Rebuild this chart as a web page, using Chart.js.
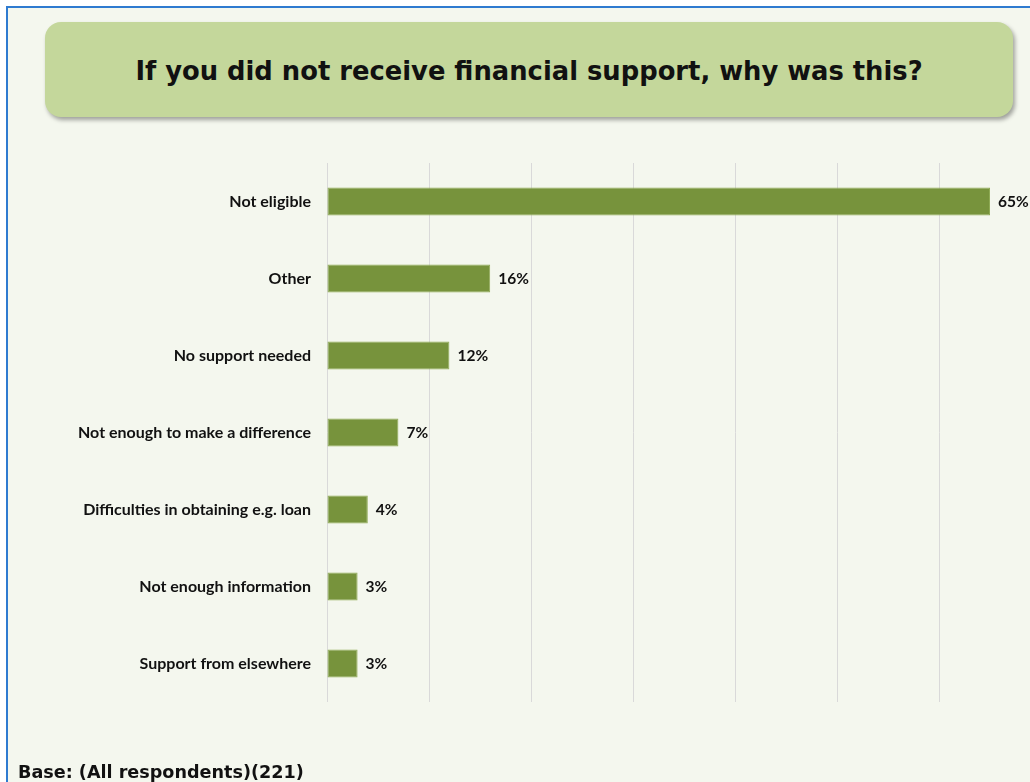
<!DOCTYPE html>
<html>
<head>
<meta charset="utf-8">
<script src="https://cdn.jsdelivr.net/npm/chart.js@4/dist/chart.umd.min.js"></script>
<style>
  html, body { margin: 0; padding: 0; background: #ffffff; }
  #page { position: relative; width: 1030px; height: 782px; overflow: hidden; background: #ffffff; }
  #frame {
    position: absolute; left: 6px; top: 6px; width: 1100px; height: 800px;
    border-left: 2px solid #2f7bd0; border-top: 2px solid #2f7bd0;
    background: #f4f7ee;
  }
  #titleBox {
    position: absolute; left: 45px; top: 22px; width: 968px; height: 95px;
    background: #c4d79b; border-radius: 16px;
    box-shadow: 2px 3px 4px rgba(0,0,0,0.35);
    display: flex; align-items: center; justify-content: center;
    font-family: "DejaVu Sans", Verdana, sans-serif; font-weight: bold; font-size: 25.8px; color: #111;
    padding-top: 2px; box-sizing: border-box;
  }
  #base {
    position: absolute; left: 18px; top: 762px;
    font-family: "DejaVu Sans", Verdana, sans-serif; font-weight: bold; font-size: 17.6px; color: #111;
  }
  #chartWrap { position: absolute; left: 0; top: 0; width: 1100px; height: 782px; }
</style>
</head>
<body>
<div id="page">
  <div id="frame"></div>
  <div id="titleBox">If you did not receive financial support, why was this?</div>
  <div id="chartWrap"><canvas id="chart" width="1100" height="782"></canvas></div>
  <div id="base">Base: (All respondents)(221)</div>
</div>
<script>
const categories = [
    'Not eligible',
    'Other',
    'No support needed',
    'Not enough to make a difference',
    'Difficulties in obtaining e.g. loan',
    'Not enough information',
    'Support from elsewhere'
];
const percentages = [65, 16, 12, 7, 4, 3, 3];
const axisMax = 70;
const axisStep = 10;

// value labels to the right of each bar
const barLabels = {
    id: 'barLabels',
    afterDatasetsDraw(chart) {
        const ctx = chart.ctx;
        const meta = chart.getDatasetMeta(0);
        ctx.save();
        ctx.font = 'bold 15.5px Lato';
        ctx.fillStyle = '#111111';
        ctx.textAlign = 'left';
        ctx.textBaseline = 'middle';
        meta.data.forEach((bar, i) => {
            ctx.fillText(percentages[i] + '%', bar.x + 8, bar.y);
        });
        ctx.restore();
    }
};

new Chart(document.getElementById('chart'), {
    type: 'bar',
    data: {
        labels: categories,
        datasets: [{
            data: percentages,
            backgroundColor: '#77933c',
            borderColor: '#8fab55',
            borderWidth: 1,
            borderSkipped: false,
            categoryPercentage: 0.5,
            barPercentage: 0.73
        }]
    },
    options: {
        indexAxis: 'y',
        responsive: false,
        animation: false,
        layout: { padding: { top: 163, bottom: 80, left: 0, right: 59 } },
        plugins: { legend: { display: false }, tooltip: { enabled: false } },
        scales: {
            x: {
                min: 0, max: axisMax,
                ticks: { display: false, stepSize: axisStep },
                grid: { color: '#d9d9d9', lineWidth: 1, drawTicks: false },
                border: { display: false },
                afterFit(scale) { scale.height = 0; }
            },
            y: {
                grid: { display: false, drawTicks: false },
                border: { display: false },
                ticks: {
                    padding: 16,
                    color: '#111111',
                    font: { family: 'Lato', weight: 'bold', size: 16 }
                },
                afterFit(scale) { scale.width = 327; }
            }
        }
    },
    plugins: [barLabels]
});
</script>
</body>
</html>
